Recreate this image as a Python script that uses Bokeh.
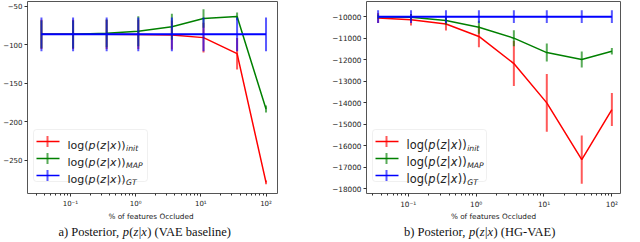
import math
from bokeh.plotting import figure
from bokeh.models import (Range1d, FixedTicker, CustomJSTickFormatter, BoxAnnotation,
                          Arrow, Label)
from bokeh.core.properties import value
from bokeh.layouts import row, column
from bokeh.embed import file_html
from bokeh.resources import INLINE

# ---------------- data ----------------
occluded = [0.036, 0.11, 0.36, 1.1, 3.6, 11, 36, 100]

vae_init = [-86.3, -86.3, -86.3, -86.5, -87.2, -90.6, -111.5, -279.0]
vae_init_err = [19, 19, 19, 19, 19, 19.5, 20.5, 2.5]
vae_map = [-86.3, -86.3, -85.0, -82.4, -76.5, -65.8, -63.0, -183.5]
vae_map_err = [18, 18, 18, 19.5, 17, 12, 5, 4.5]
vae_gt = [-86.3, -86.3, -86.3, -86.3, -86.3, -86.3, -86.3, -86.3]
vae_gt_err = [22, 22, 22, 22, 22, 22, 22, 22]

hg_init = [-10060, -10140, -10340, -10920, -12180, -14010, -16650, -14320]
hg_init_err = [230, 270, 300, 500, 1050, 1340, 1120, 770]
hg_map = [-10000, -10030, -10180, -10490, -11000, -11670, -11990, -11610]
hg_map_err = [100, 150, 200, 300, 370, 420, 370, 150]
hg_gt = [-10000, -10000, -10000, -10000, -10000, -10000, -10000, -10000]
hg_gt_err = [300, 300, 300, 300, 300, 300, 300, 300]

x_ticks = [0.1, 1, 10, 100]
x_tick_labels = ["10\u207b\u00b9", "10\u2070", "10\u00b9", "10\u00b2"]
vae_yticks = [-250, -200, -150, -100, -50]
vae_ytick_labels = ["\u2212250", "\u2212200", "\u2212150", "\u2212100", "\u221250"]
hg_yticks = [-18000, -17000, -16000, -15000, -14000, -13000, -12000, -11000, -10000]
hg_ytick_labels = ["\u221218000", "\u221217000", "\u221216000", "\u221215000", "\u221214000",
                   "\u221213000", "\u221212000", "\u221211000", "\u221210000"]

series_subs = ["init", "MAP", "GT"]
series_colors = ["#ff0000", "#008000", "#0000ff"]

x_label = "% of features Occluded"
caption_a = ["a) Posterior,", " ", "p", "(", "z", "|", "x", ")", " ", "(VAE baseline)"]
caption_b = ["b) Posterior,", " ", "p", "(", "z", "|", "x", ")", " ", "(HG-VAE)"]
legend_text = ["log(", "p", "(", "z", "|", "x", "))"]

TXT = "#222222"
minor = [m * 10.0 ** d for d in range(-3, 3) for m in range(2, 10)]

# advance widths (em) used to lay out mixed-style text pieces
SERIF_W = {"a": .444, ")": .333, " ": .25, "P": .556, "o": .5, "s": .389, "t": .278,
           "e": .444, "r": .333, "i": .278, ",": .25, "p": .5, "(": .333, "z": .389,
           "|": .2, "x": .444, "V": .722, "A": .722, "E": .611, "b": .5, "l": .278,
           "n": .5, "H": .722, "G": .722, "-": .333}
SANS_W = {"l": .278, "o": .612, "g": .635, "(": .39, ")": .39, "p": .635, "z": .525,
          "|": .337, "x": .592, "i": .278, "n": .634, "t": .392, "M": .863, "A": .684,
          "P": .603, "G": .775, "T": .611}


def text_w(s, table, size):
    return sum(table.get(c, 0.55) for c in s) * size


def rich_label(p, x, y, pieces, italic_idx, font, size, table, color):
    cx = x
    for k, s in enumerate(pieces):
        if s.strip():
            p.add_layout(Label(x=cx, y=y, x_units="screen", y_units="screen", text=s,
                               text_font=font, text_font_size=f"{size}px",
                               text_font_style="italic" if k in italic_idx else "normal",
                               text_baseline="alphabetic", text_align="left",
                               text_color=color))
        cx += text_w(s, table, size) + (0.4 if k in italic_idx else 0)
    return cx


def rich_text(p, x, y, pieces, italic_idx, font, size, table, color):
    cx = x
    for k, s in enumerate(pieces):
        if s.strip():
            p.text(x=[cx], y=[y], text=[s], text_font=value(font),
                   text_font_size=f"{size}px",
                   text_font_style="italic" if k in italic_idx else "normal",
                   text_baseline="alphabetic", text_align="left", text_color=color)
        cx += text_w(s, table, size) + (0.4 if k in italic_idx else 0)
    return cx


def make_chart(width, bl, br, xr, yr, yticks, ylabels, series, tick_fs, leg_fs):
    p = figure(width=width, height=211, x_axis_type="log", output_backend="svg",
               toolbar_location=None, x_range=Range1d(*xr), y_range=Range1d(*yr),
               min_border_left=bl, min_border_right=br, min_border_top=1,
               min_border_bottom=17)
    p.grid.visible = False
    p.outline_line_color = "#555555"
    p.outline_line_width = 1
    p.background_fill_color = "white"
    p.border_fill_color = "white"

    xa = p.xaxis[0]
    xa.ticker = FixedTicker(ticks=x_ticks, minor_ticks=minor)
    xa.formatter = CustomJSTickFormatter(args=dict(tks=x_ticks, lbls=x_tick_labels), code="""
        for (let i = 0; i < tks.length; i++) {
            if (Math.abs(Math.log10(tick) - Math.log10(tks[i])) < 1e-6) return lbls[i];
        }
        return '';""")
    ya = p.yaxis[0]
    ya.ticker = FixedTicker(ticks=yticks)
    ya.formatter = CustomJSTickFormatter(args=dict(tks=yticks, lbls=ylabels), code="""
        for (let i = 0; i < tks.length; i++) {
            if (Math.abs(tick - tks[i]) < 1e-6) return lbls[i];
        }
        return '';""")
    for ax in (xa, ya):
        ax.axis_line_color = None
        ax.major_tick_line_color = "#333333"
        ax.minor_tick_line_color = "#333333"
        ax.major_tick_in = 0
        ax.major_tick_out = 3
        ax.minor_tick_in = 0
        ax.minor_tick_out = 2
        ax.major_label_text_font = "DejaVu Sans"
        ax.major_label_text_font_size = tick_fs
        ax.major_label_text_color = TXT
        ax.major_label_standoff = 2
    xa.major_label_standoff = 3
    ya.minor_tick_line_color = None

    for (ys, es), col in zip(series, series_colors):
        lw = 2 if col == "#0000ff" else 1.5
        p.line(occluded, ys, line_color=col, line_width=lw)
        p.segment(x0=occluded, y0=[y - e for y, e in zip(ys, es)],
                  x1=occluded, y1=[y + e for y, e in zip(ys, es)],
                  line_color=col, line_width=2, line_alpha=0.65)

    # legend (screen units, relative to the frame's bottom-left corner)
    p.add_layout(BoxAnnotation(left=6, right=120, bottom=12, top=64,
                               left_units="screen", right_units="screen",
                               bottom_units="screen", top_units="screen",
                               fill_color="white", fill_alpha=0.85,
                               line_color="#cccccc", line_width=1, border_radius=3))
    for i, (sub, col) in enumerate(zip(series_subs, series_colors)):
        yy = 52 - 17 * i
        p.add_layout(Arrow(start=None, end=None, x_start=9, y_start=yy, x_end=32, y_end=yy,
                           start_units="screen", end_units="screen",
                           line_color=col, line_width=1.5))
        p.add_layout(Arrow(start=None, end=None, x_start=20, y_start=yy - 5.5, x_end=20,
                           y_end=yy + 5.5, start_units="screen", end_units="screen",
                           line_color=col, line_width=2, line_alpha=0.65))
        end = rich_label(p, 40, yy - 3.5, legend_text, {1, 3, 5}, "DejaVu Sans", leg_fs,
                         SANS_W, TXT)
        p.add_layout(Label(x=end + 0.5, y=yy - 6.5, x_units="screen", y_units="screen",
                           text=sub, text_font="DejaVu Sans", text_font_size="7.7px",
                           text_font_style="italic", text_baseline="alphabetic",
                           text_color=TXT))
    return p


def make_caption(width, frame_center, pieces, center):
    h = 29
    c = figure(width=width, height=h, output_backend="svg", toolbar_location=None,
               title=None, x_range=Range1d(0, width), y_range=Range1d(0, h),
               min_border=0, x_axis_location=None, y_axis_location=None)
    c.grid.visible = False
    c.outline_line_color = None
    c.background_fill_color = "white"
    c.border_fill_color = "white"
    c.text(x=[frame_center], y=[24], text=[x_label], text_font=value("DejaVu Sans"),
           text_font_size="7.3px", text_align="center", text_baseline="middle",
           text_color=TXT)
    cap_w = sum(text_w(s, SERIF_W, 12.5) for s in pieces) + 1.2
    rich_text(c, center - cap_w / 2, 9, pieces, {2, 4, 6}, "Liberation Serif", 12.5,
              SERIF_W, "#111111")
    return c


p1 = make_chart(322, 24, 45, (0.022, 150), (-293.4, -43.6), vae_yticks, vae_ytick_labels,
                [(vae_init, vae_init_err), (vae_map, vae_map_err), (vae_gt, vae_gt_err)],
                "7px", 11)
p2 = make_chart(302, 44, 4, (0.0243, 134), (-18226, -9294), hg_yticks, hg_ytick_labels,
                [(hg_init, hg_init_err), (hg_map, hg_map_err), (hg_gt, hg_gt_err)],
                "7.3px", 11.4)
c1 = make_caption(322, 24 + (322 - 24 - 45) / 2, caption_a, 145)
c2 = make_caption(302, 44 + (302 - 44 - 4) / 2, caption_b, 158)

layout = column(row(p1, p2), row(c1, c2))
open("out.html", "w").write(file_html(layout, INLINE))
